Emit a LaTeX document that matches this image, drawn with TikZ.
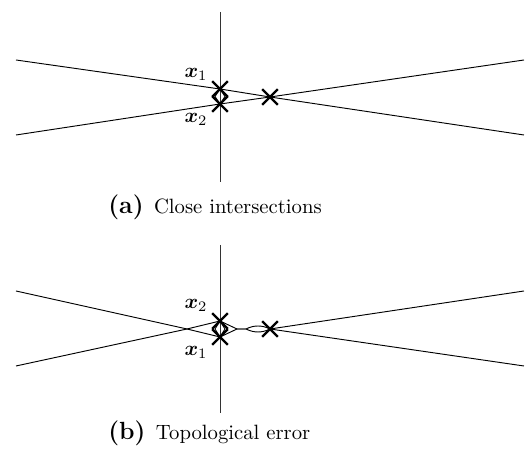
\documentclass[tikz,border=0pt]{standalone}
\usepackage{amsmath,bm}
\usetikzlibrary{shapes.misc}
\tikzset{
  xmark/.style={draw, cross out, line width=1.1pt, minimum size=6.5pt, inner sep=0pt},
  seg/.style={line width=0.45pt},
}
\begin{document}
\begin{tikzpicture}[x=0.4831pt, y=-0.4831pt]
\useasboundingbox (0,0) rectangle (525,453);
% ---- (a) close intersections ----
% Draw vertical line
\coordinate (aTop) at (220,12);
\coordinate (aBot) at (220,182);
\draw[seg, black!80] (aTop) -- (aBot);
% Crossing points
\node[xmark] (ax1) at (220,89) {};
\node[xmark] (ax2) at (220,104) {};
\node[xmark] (aR) at (270,97) {};
% Line ends
\coordinate (aLT) at (16,60);
\coordinate (aLB) at (16,135);
\coordinate (aRT) at (524,60);
\coordinate (aRB) at (524,135);
% Draw the two lines
\draw[seg] (aLT) -- (ax1.center) -- (aR.center) -- (aRB);
\draw[seg] (aLB) -- (ax2.center) -- (aR.center) -- (aRT);
% Small diamond between x1 and x2
\draw[seg] (ax1.center) -- (215,96.5) -- (ax2.center) -- (225,96.5) -- cycle;
% Labels
\node (la1) at (196,74) {$\bm{x}_1$};
\node (la2) at (196,119) {$\bm{x}_2$};
\node[anchor=west] (capa) at (101,207) {{\large\textbf{(a)}}\hspace{5pt}Close intersections};
% ---- (b) topological error ----
% Draw vertical line
\coordinate (bTop) at (220,245);
\coordinate (bBot) at (220,413);
\draw[seg, black!80] (bTop) -- (bBot);
% Crossing points
\node[xmark] (bx2) at (220,321) {};
\node[xmark] (bx1) at (220,337) {};
\node[xmark] (bR) at (270,329) {};
% Line ends and bends
\coordinate (bLT) at (16,291);
\coordinate (bLB) at (16,366);
\coordinate (bRT) at (524,291);
\coordinate (bRB) at (524,366);
\coordinate (bC) at (187,329);
\coordinate (bM) at (237,329);
\coordinate (bN) at (246,329);
% Draw the two broken lines
\draw[seg] (bLT) -- (bC) -- (bx2.center) -- (bM) -- (bN)
  .. controls (254,325) and (262,325) .. (bR.center) -- (bRT);
\draw[seg] (bLB) -- (bC) -- (bx1.center) -- (bM) -- (bN)
  .. controls (254,333) and (262,333) .. (bR.center) -- (bRB);
% Small diamond between x2 and x1
\draw[seg] (bx2.center) -- (215,329) -- (bx1.center) -- (225,329) -- cycle;
% Labels
\node (lb2) at (196,305) {$\bm{x}_2$};
\node (lb1) at (196,352) {$\bm{x}_1$};
\node[anchor=west] (capb) at (101,433) {{\large\textbf{(b)}}\hspace{5pt}Topological error};
\end{tikzpicture}
\end{document}
